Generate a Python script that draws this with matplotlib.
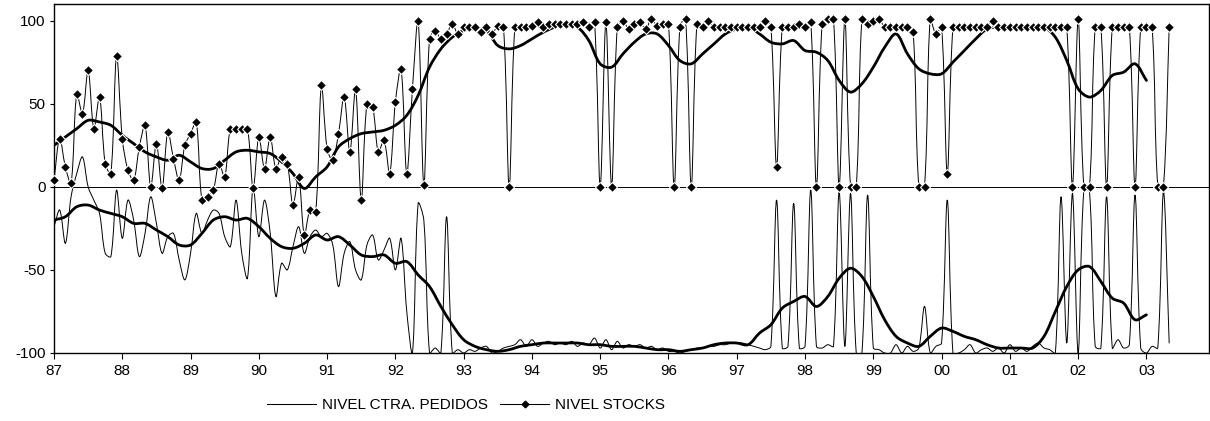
import numpy as np
import matplotlib
matplotlib.use("Agg")
import matplotlib.pyplot as plt
from matplotlib.path import Path
from matplotlib.patches import PathPatch
from matplotlib.lines import Line2D

plt.rcParams["font.family"] = ["Liberation Sans", "DejaVu Sans"]
plt.rcParams["axes.unicode_minus"] = False

# ── Datos (mensuales, ene-87 .. may-03) ───────────────────────────────────────

YEAR_LABELS = ["87", "88", "89", "90", "91", "92", "93", "94", "95",
               "96", "97", "98", "99", "00", "01", "02", "03"]

PEDIDOS = [
    -24, -14, -34, -6, 8, 18, 0, -8, -16, -40, -42, -2,               # 87
    -31, -8, -20, -42, -28, -6, -22, -40, -30, -28, -44, -56,         # 88
    -40, -16, -28, -20, -14, -16, -30, -36, -8, -40, -55, 0,          # 89
    -30, -8, -28, -66, -46, -50, -36, -24, -40, -30, -26, -30,        # 90
    -28, -35, -60, -40, -33, -50, -56, -35, -29, -44, -38, -31,       # 91
    -50, -31, -75, -100, -10, -20, -100, -97, -100, -18, -100, -98,   # 92
    -100, -98, -99, -97, -96, -100, -99, -97, -96, -95, -92, -96,     # 93
    -92, -96, -94, -93, -95, -94, -95, -93, -96, -94, -95, -91,       # 94
    -97, -92, -98, -93, -97, -95, -96, -95, -97, -96, -98, -97,       # 95
    -99, -99, -100, -99, -98, -97, -97, -96, -96, -95, -95, -94,      # 96
    -94, -94, -95, -96, -97, -98, -96, -8, -97, -96, -10, -97,        # 97
    -96, -2, -96, -97, -95, -96, -3, -96, -4, -100, -100, -5,         # 98
    -97, -98, -100, -100, -95, -100, -96, -99, -97, -72, -100, -96,   # 99
    -94, -8, -100, -100, -98, -95, -100, -98, -97, -99, -97, -100,    # 00
    -95, -99, -97, -99, -96, -94, -97, -98, -100, -6, -94, -4,        # 01
    -100, -2, -3, -96, -97, -6, -97, -92, -97, -95, -5, -97,          # 02
    -100, -96, -97, -3, -94,                                          # 03
]

STOCKS = [
    4, 29, 12, 2, 56, 44, 70, 35, 54, 14, 8, 79,                      # 87
    29, 10, 4, 24, 37, 0, 26, -1, 33, 17, 4, 25,                      # 88
    32, 39, -8, -6, -2, 14, 6, 35, 35, 35, 35, -1,                    # 89
    30, 11, 30, 11, 18, 14, -11, 6, -29, -14, -15, 61,                # 90
    23, 16, 32, 54, 21, 59, -8, 50, 48, 21, 28, 8,                    # 91
    51, 71, 8, 59, 100, 1, 89, 94, 89, 92, 98, 92,                    # 92
    96, 96, 96, 93, 96, 92, 97, 96, 0, 96, 96, 96,                    # 93
    97, 99, 96, 98, 98, 98, 98, 98, 98, 99, 96, 99,                   # 94
    0, 99, 0, 96, 100, 95, 98, 99, 95, 101, 97, 98,                   # 95
    98, 0, 96, 101, 0, 98, 96, 100, 96, 96, 96, 96,                   # 96
    96, 96, 96, 96, 96, 100, 96, 12, 96, 96, 96, 98,                  # 97
    96, 99, 0, 98, 101, 101, 0, 101, 0, 0, 101, 98,                   # 98
    100, 101, 96, 96, 96, 96, 96, 93, 0, 0, 101, 92,                  # 99
    96, 8, 96, 96, 96, 96, 96, 96, 96, 100, 96, 96,                   # 00
    96, 96, 96, 96, 96, 96, 96, 96, 96, 96, 96, 0,                    # 01
    101, 0, 0, 96, 96, 0, 96, 96, 96, 96, 0, 96,                      # 02
    96, 96, 0, 0, 96,                                                 # 03
]

# medias móviles (líneas gruesas), leídas cada 2 meses
MA_STEP = 2
MA_STOCKS = [
    25, 30, 35, 40, 39, 37, 31, 26, 21, 18, 16, 19,
    15, 11, 11, 16, 21, 22, 21, 20, 15, 8, -1, 6,
    12, 24, 29, 32, 33, 34, 37, 43, 55, 72, 83, 90,
    94, 95, 94, 85, 83, 85, 89, 93, 96, 97, 96, 88,
    74, 72, 80, 87, 92, 92, 85, 76, 74, 80, 86, 92,
    95, 96, 92, 87, 86, 88, 82, 81, 76, 64, 57, 62,
    72, 84, 92, 80, 71, 68, 68, 75, 82, 89, 95, 96,
    96, 96, 96, 96, 90, 76, 59, 54, 58, 67, 69, 74,
    64,
]
MA_PEDIDOS = [
    -20, -18, -12, -11, -14, -16, -18, -22, -22, -26, -30, -35,
    -35, -28, -20, -18, -20, -19, -24, -31, -36, -37, -34, -29,
    -32, -30, -35, -41, -42, -41, -46, -45, -53, -60, -72, -83,
    -92, -96, -98, -99, -98, -96, -95, -94, -94, -94, -94, -95,
    -95, -96, -96, -96, -97, -98, -98, -99, -98, -97, -95, -94,
    -94, -95, -88, -83, -73, -69, -66, -72, -66, -55, -49, -54,
    -66, -80, -90, -94, -96, -90, -85, -87, -90, -92, -95, -97,
    -97, -97, -97, -90, -75, -60, -50, -48, -57, -67, -70, -80,
    -77,
]

# px por mes / px por unidad, para que el suavizado se calcule en pantalla
PX_X, PX_Y = 5.69, 1.665


# ── Línea suavizada (tipo Excel) ─────────────────────────────────────────────

def smooth_path(x, y, t=1 / 3):
    pts = np.column_stack([np.asarray(x, float), np.asarray(y, float)])
    scr = pts * [PX_X, PX_Y]
    n = len(pts)
    verts = [pts[0]]
    codes = [Path.MOVETO]
    for k in range(n - 1):
        a = max(k - 1, 0)
        d = min(k + 2, n - 1)
        d01 = np.hypot(*(scr[k] - scr[a]))
        d12 = np.hypot(*(scr[k + 1] - scr[k]))
        d23 = np.hypot(*(scr[d] - scr[k + 1]))
        f1 = d12 / (d01 + d12) if d01 + d12 > 0 else 0
        f2 = d12 / (d12 + d23) if d12 + d23 > 0 else 0
        c1 = pts[k] + (pts[k + 1] - pts[a]) * t * f1
        c2 = pts[k + 1] - (pts[d] - pts[k]) * t * f2
        verts += [c1, c2, pts[k + 1]]
        codes += [Path.CURVE4] * 3
    return Path(verts, codes)


def add_curve(ax, x, y, lw, z):
    ax.add_patch(PathPatch(smooth_path(x, y), facecolor="none", edgecolor="black",
                           lw=lw, joinstyle="round", capstyle="round", zorder=z))


# ── Gráfico ──────────────────────────────────────────────────────────────────

def main():
    W, H = 1210, 421
    fig = plt.figure(figsize=(W / 100, H / 100), dpi=100)
    ax = fig.add_axes([54 / W, 1 - 353 / H, (1209 - 54) / W, (353 - 4) / H])

    x = np.arange(len(STOCKS))
    xm = np.arange(len(MA_STOCKS)) * MA_STEP

    ax.axhline(0, color="black", lw=0.7, zorder=1)

    add_curve(ax, x, PEDIDOS, 0.7, 2)
    add_curve(ax, x, STOCKS, 0.7, 2)
    add_curve(ax, xm, MA_PEDIDOS, 2.0, 3)
    add_curve(ax, xm, MA_STOCKS, 2.0, 3)

    ax.plot(x, STOCKS, ls="none", marker="D", ms=4.6, mfc="black", mec="white",
            mew=0.8, clip_on=False, zorder=5)

    ax.set_xlim(0, 203)
    ax.set_ylim(-100, 110)
    ax.set_xticks(np.arange(len(YEAR_LABELS)) * 12)
    ax.set_xticklabels(YEAR_LABELS)
    ax.set_yticks([-100, -50, 0, 50, 100])
    ax.set_yticklabels(["-100", "-50", "0", "50", "100"])
    ax.tick_params(axis="both", direction="out", labelsize=11, width=0.8,
                   color="black", labelcolor="black")
    ax.tick_params(axis="x", length=4, pad=4)
    ax.tick_params(axis="y", length=3, pad=3)
    for sp in ax.spines.values():
        sp.set_color("black")
        sp.set_linewidth(1.0)

    handles = [
        Line2D([], [], color="black", lw=0.75),
        Line2D([], [], color="black", lw=0.75, marker="D", ms=3.4,
               mfc="black", mec="black"),
    ]
    fig.legend(handles, ["NIVEL CTRA. PEDIDOS", "NIVEL STOCKS"], loc="center",
               bbox_to_anchor=(466 / W, 1 - 405 / H), ncol=2, frameon=False,
               fontsize=11, handlelength=3.2, handletextpad=0.4, columnspacing=0.8)

    fig.savefig("out.png", dpi=100)
    plt.close(fig)


if __name__ == "__main__":
    main()
